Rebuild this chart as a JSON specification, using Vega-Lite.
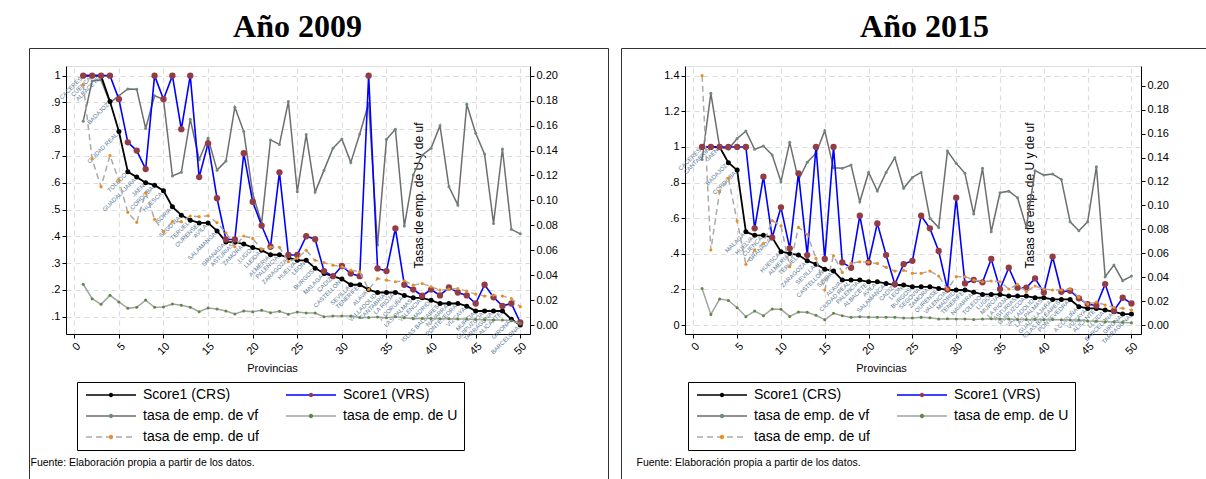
{
  "$schema": "https://vega.github.io/schema/vega-lite/v6.json",
  "autosize": {"type": "pad"},
  "padding": {"left": 28, "top": 10, "right": 0, "bottom": 0},
  "background": "white",
  "datasets": {
    "y2009": [
      {"i": 1, "prov": "CACERES", "crs": 1.0, "vrs": 1.0, "vf": 0.83, "u": 0.0327, "uf": 0.193},
      {"i": 2, "prov": "CUENCA", "crs": 1.0, "vrs": 1.0, "vf": 0.98, "u": 0.0211, "uf": 0.133},
      {"i": 3, "prov": "ALBACETE", "crs": 1.0, "vrs": 1.0, "vf": 0.984, "u": 0.0166, "uf": 0.111},
      {"i": 4, "prov": "BADAJOZ", "crs": 0.903, "vrs": 1.0, "vf": 0.899, "u": 0.0238, "uf": 0.136},
      {"i": 5, "prov": "CIUDAD REAL", "crs": 0.791, "vrs": 0.912, "vf": 0.925, "u": 0.0185, "uf": 0.116},
      {"i": 6, "prov": "TOLEDO", "crs": 0.641, "vrs": 0.751, "vf": 0.95, "u": 0.0134, "uf": 0.0904},
      {"i": 7, "prov": "GUADALAJARA", "crs": 0.621, "vrs": 0.72, "vf": 0.949, "u": 0.0142, "uf": 0.0824},
      {"i": 8, "prov": "JAEN", "crs": 0.6, "vrs": 0.651, "vf": 0.803, "u": 0.02, "uf": 0.106},
      {"i": 9, "prov": "CORDOBA", "crs": 0.591, "vrs": 1.0, "vf": 0.925, "u": 0.0142, "uf": 0.0848},
      {"i": 10, "prov": "HUESCA", "crs": 0.57, "vrs": 0.912, "vf": 0.912, "u": 0.0145, "uf": 0.0749},
      {"i": 11, "prov": "SORIA", "crs": 0.51, "vrs": 1.0, "vf": 0.625, "u": 0.0168, "uf": 0.0829},
      {"i": 12, "prov": "SEGOVIA", "crs": 0.479, "vrs": 0.8, "vf": 0.639, "u": 0.0158, "uf": 0.0829},
      {"i": 13, "prov": "TERUEL", "crs": 0.46, "vrs": 1.0, "vf": 0.837, "u": 0.0142, "uf": 0.0874},
      {"i": 14, "prov": "OURENSE", "crs": 0.45, "vrs": 0.621, "vf": 0.687, "u": 0.0107, "uf": 0.0869},
      {"i": 15, "prov": "AVILA", "crs": 0.45, "vrs": 0.747, "vf": 0.766, "u": 0.0136, "uf": 0.0877},
      {"i": 16, "prov": "SALAMANCA", "crs": 0.42, "vrs": 0.542, "vf": 0.647, "u": 0.0128, "uf": 0.0821},
      {"i": 17, "prov": "GRANADA", "crs": 0.379, "vrs": 0.388, "vf": 0.681, "u": 0.0112, "uf": 0.074},
      {"i": 18, "prov": "ASTURIAS", "crs": 0.378, "vrs": 0.388, "vf": 0.882, "u": 0.0088, "uf": 0.0628},
      {"i": 19, "prov": "ZAMORA", "crs": 0.371, "vrs": 0.71, "vf": 0.791, "u": 0.0112, "uf": 0.0714},
      {"i": 20, "prov": "LUGO", "crs": 0.358, "vrs": 0.529, "vf": 0.56, "u": 0.0107, "uf": 0.0695},
      {"i": 21, "prov": "LLEIDA", "crs": 0.348, "vrs": 0.44, "vf": 0.448, "u": 0.0118, "uf": 0.0607},
      {"i": 22, "prov": "ALMERIA", "crs": 0.331, "vrs": 0.361, "vf": 0.76, "u": 0.0099, "uf": 0.0623},
      {"i": 23, "prov": "PALENCIA", "crs": 0.331, "vrs": 0.639, "vf": 0.743, "u": 0.011, "uf": 0.0623},
      {"i": 24, "prov": "ZARAGOZA", "crs": 0.32, "vrs": 0.33, "vf": 0.903, "u": 0.0086, "uf": 0.0508},
      {"i": 25, "prov": "HUELVA", "crs": 0.31, "vrs": 0.33, "vf": 0.566, "u": 0.0104, "uf": 0.0535},
      {"i": 26, "prov": "LEON", "crs": 0.31, "vrs": 0.4, "vf": 0.78, "u": 0.0096, "uf": 0.06},
      {"i": 27, "prov": "BURGOS", "crs": 0.281, "vrs": 0.389, "vf": 0.565, "u": 0.0096, "uf": 0.052},
      {"i": 28, "prov": "MALAGA", "crs": 0.261, "vrs": 0.27, "vf": 0.647, "u": 0.0067, "uf": 0.05},
      {"i": 29, "prov": "CADIZ", "crs": 0.251, "vrs": 0.251, "vf": 0.729, "u": 0.0072, "uf": 0.048},
      {"i": 30, "prov": "CASTELLON", "crs": 0.24, "vrs": 0.289, "vf": 0.763, "u": 0.0072, "uf": 0.0467},
      {"i": 31, "prov": "SEVILLA", "crs": 0.219, "vrs": 0.261, "vf": 0.676, "u": 0.0072, "uf": 0.044},
      {"i": 32, "prov": "TENERIFE", "crs": 0.219, "vrs": 0.251, "vf": 0.782, "u": 0.0061, "uf": 0.0427},
      {"i": 33, "prov": "ALAVA", "crs": 0.201, "vrs": 1.0, "vf": 0.897, "u": 0.0061, "uf": 0.0285},
      {"i": 34, "prov": "VALLADOLID", "crs": 0.19, "vrs": 0.28, "vf": 0.367, "u": 0.0064, "uf": 0.0373},
      {"i": 35, "prov": "CANTABRIA", "crs": 0.19, "vrs": 0.27, "vf": 0.762, "u": 0.0059, "uf": 0.036},
      {"i": 36, "prov": "LA RIOJA", "crs": 0.19, "vrs": 0.429, "vf": 0.8, "u": 0.0067, "uf": 0.0347},
      {"i": 37, "prov": "A CORUÑA", "crs": 0.179, "vrs": 0.219, "vf": 0.438, "u": 0.0059, "uf": 0.0355},
      {"i": 38, "prov": "LAS PALMAS", "crs": 0.17, "vrs": 0.201, "vf": 0.629, "u": 0.0051, "uf": 0.032},
      {"i": 39, "prov": "VALENCIA", "crs": 0.17, "vrs": 0.178, "vf": 0.703, "u": 0.0053, "uf": 0.0333},
      {"i": 40, "prov": "MADRID", "crs": 0.161, "vrs": 0.201, "vf": 0.729, "u": 0.0053, "uf": 0.0307},
      {"i": 41, "prov": "ISLAS BALEARES", "crs": 0.149, "vrs": 0.179, "vf": 0.813, "u": 0.0051, "uf": 0.028},
      {"i": 42, "prov": "NAVARRA", "crs": 0.149, "vrs": 0.209, "vf": 0.585, "u": 0.0051, "uf": 0.0288},
      {"i": 43, "prov": "PONTEVEDRA", "crs": 0.149, "vrs": 0.19, "vf": 0.517, "u": 0.0048, "uf": 0.0293},
      {"i": 44, "prov": "VIZCAYA", "crs": 0.139, "vrs": 0.179, "vf": 0.893, "u": 0.0048, "uf": 0.0272},
      {"i": 45, "prov": "MURCIA", "crs": 0.121, "vrs": 0.149, "vf": 0.785, "u": 0.0045, "uf": 0.0248},
      {"i": 46, "prov": "GUIPUZCOA", "crs": 0.121, "vrs": 0.219, "vf": 0.707, "u": 0.0043, "uf": 0.0232},
      {"i": 47, "prov": "TARRAGONA", "crs": 0.121, "vrs": 0.172, "vf": 0.448, "u": 0.004, "uf": 0.024},
      {"i": 48, "prov": "ALICANTE", "crs": 0.121, "vrs": 0.14, "vf": 0.726, "u": 0.004, "uf": 0.0232},
      {"i": 49, "prov": "GIRONA", "crs": 0.09, "vrs": 0.149, "vf": 0.426, "u": 0.0035, "uf": 0.0213},
      {"i": 50, "prov": "BARCELONA", "crs": 0.069, "vrs": 0.078, "vf": 0.409, "u": 0.0013, "uf": 0.0147}
    ],
    "y2015": [
      {"i": 1, "prov": "CACERES", "crs": 1.0, "vrs": 1.0, "vf": 0.93, "u": 0.0306, "uf": 0.2084},
      {"i": 2, "prov": "CANTABRIA", "crs": 1.0, "vrs": 1.0, "vf": 1.301, "u": 0.0089, "uf": 0.0627},
      {"i": 3, "prov": "JAEN", "crs": 1.0, "vrs": 1.0, "vf": 1.0, "u": 0.0217, "uf": 0.1114},
      {"i": 4, "prov": "BADAJOZ", "crs": 0.912, "vrs": 1.0, "vf": 0.987, "u": 0.0206, "uf": 0.1226},
      {"i": 5, "prov": "CORDOBA", "crs": 0.87, "vrs": 1.0, "vf": 1.048, "u": 0.0145, "uf": 0.0869},
      {"i": 6, "prov": "MALAGA", "crs": 0.524, "vrs": 1.0, "vf": 1.089, "u": 0.007, "uf": 0.0507},
      {"i": 7, "prov": "HUELVA", "crs": 0.504, "vrs": 0.543, "vf": 0.987, "u": 0.0117, "uf": 0.0627},
      {"i": 8, "prov": "CUENCA", "crs": 0.504, "vrs": 0.833, "vf": 1.005, "u": 0.0078, "uf": 0.0683},
      {"i": 9, "prov": "GRANADA", "crs": 0.492, "vrs": 0.492, "vf": 0.955, "u": 0.0134, "uf": 0.0872},
      {"i": 10, "prov": "HUESCA", "crs": 0.412, "vrs": 0.661, "vf": 0.805, "u": 0.0131, "uf": 0.083},
      {"i": 11, "prov": "ALMERIA", "crs": 0.402, "vrs": 0.431, "vf": 1.026, "u": 0.0072, "uf": 0.0488},
      {"i": 12, "prov": "TERUEL", "crs": 0.393, "vrs": 0.852, "vf": 0.814, "u": 0.0109, "uf": 0.0816},
      {"i": 13, "prov": "ZARAGOZA", "crs": 0.361, "vrs": 0.393, "vf": 0.914, "u": 0.0106, "uf": 0.0758},
      {"i": 14, "prov": "SEVILLA", "crs": 0.342, "vrs": 1.0, "vf": 0.964, "u": 0.0081, "uf": 0.0557},
      {"i": 15, "prov": "CASTELLON", "crs": 0.314, "vrs": 0.371, "vf": 1.091, "u": 0.0045, "uf": 0.0293},
      {"i": 16, "prov": "SORIA", "crs": 0.303, "vrs": 1.0, "vf": 0.883, "u": 0.0098, "uf": 0.0579},
      {"i": 17, "prov": "ALAVA", "crs": 0.253, "vrs": 0.352, "vf": 0.88, "u": 0.0078, "uf": 0.044},
      {"i": 18, "prov": "CIUDAD REAL", "crs": 0.253, "vrs": 0.322, "vf": 0.899, "u": 0.0064, "uf": 0.0515},
      {"i": 19, "prov": "PALENCIA", "crs": 0.253, "vrs": 0.614, "vf": 0.692, "u": 0.007, "uf": 0.0529},
      {"i": 20, "prov": "ALBACETE", "crs": 0.243, "vrs": 0.352, "vf": 0.857, "u": 0.0064, "uf": 0.0524},
      {"i": 21, "prov": "AVILA", "crs": 0.243, "vrs": 0.571, "vf": 0.753, "u": 0.0064, "uf": 0.0515},
      {"i": 22, "prov": "SALAMANCA", "crs": 0.234, "vrs": 0.393, "vf": 0.857, "u": 0.0064, "uf": 0.0482},
      {"i": 23, "prov": "CADIZ", "crs": 0.225, "vrs": 0.23, "vf": 0.94, "u": 0.0064, "uf": 0.0451},
      {"i": 24, "prov": "LEON", "crs": 0.225, "vrs": 0.342, "vf": 0.768, "u": 0.0059, "uf": 0.0457},
      {"i": 25, "prov": "BURGOS", "crs": 0.215, "vrs": 0.361, "vf": 0.829, "u": 0.0059, "uf": 0.0432},
      {"i": 26, "prov": "SEGOVIA", "crs": 0.215, "vrs": 0.614, "vf": 0.857, "u": 0.0064, "uf": 0.0432},
      {"i": 27, "prov": "ZAMORA", "crs": 0.215, "vrs": 0.543, "vf": 0.599, "u": 0.0061, "uf": 0.0451},
      {"i": 28, "prov": "OURENSE", "crs": 0.206, "vrs": 0.416, "vf": 0.548, "u": 0.005, "uf": 0.041},
      {"i": 29, "prov": "VALENCIA", "crs": 0.197, "vrs": 0.202, "vf": 0.977, "u": 0.0053, "uf": 0.0298},
      {"i": 30, "prov": "MADRID", "crs": 0.197, "vrs": 0.715, "vf": 0.908, "u": 0.005, "uf": 0.0404},
      {"i": 31, "prov": "TENERIFE", "crs": 0.197, "vrs": 0.234, "vf": 0.852, "u": 0.005, "uf": 0.0404},
      {"i": 32, "prov": "NAVARRA", "crs": 0.185, "vrs": 0.253, "vf": 0.623, "u": 0.0047, "uf": 0.0376},
      {"i": 33, "prov": "TOLEDO", "crs": 0.172, "vrs": 0.24, "vf": 0.88, "u": 0.005, "uf": 0.0362},
      {"i": 34, "prov": "LUGO", "crs": 0.172, "vrs": 0.371, "vf": 0.524, "u": 0.0053, "uf": 0.0368},
      {"i": 35, "prov": "MURCIA", "crs": 0.172, "vrs": 0.202, "vf": 0.743, "u": 0.005, "uf": 0.0362},
      {"i": 36, "prov": "LA RIOJA", "crs": 0.163, "vrs": 0.322, "vf": 0.752, "u": 0.005, "uf": 0.0301},
      {"i": 37, "prov": "ASTURIAS", "crs": 0.163, "vrs": 0.21, "vf": 0.715, "u": 0.0047, "uf": 0.034},
      {"i": 38, "prov": "GUIPUZCOA", "crs": 0.163, "vrs": 0.21, "vf": 0.55, "u": 0.0047, "uf": 0.0279},
      {"i": 39, "prov": "VALLADOLID", "crs": 0.1535, "vrs": 0.262, "vf": 0.867, "u": 0.0047, "uf": 0.0326},
      {"i": 40, "prov": "LAS PALMAS", "crs": 0.1535, "vrs": 0.183, "vf": 0.842, "u": 0.0045, "uf": 0.0301},
      {"i": 41, "prov": "GUADALAJARA", "crs": 0.144, "vrs": 0.384, "vf": 0.848, "u": 0.0047, "uf": 0.0293},
      {"i": 42, "prov": "ISLAS BALEARES", "crs": 0.144, "vrs": 0.187, "vf": 0.818, "u": 0.0045, "uf": 0.0293},
      {"i": 43, "prov": "PONTEVEDRA", "crs": 0.144, "vrs": 0.193, "vf": 0.58, "u": 0.0042, "uf": 0.0301},
      {"i": 44, "prov": "A CORUÑA", "crs": 0.103, "vrs": 0.15, "vf": 0.53, "u": 0.0042, "uf": 0.0231},
      {"i": 45, "prov": "VIZCAYA", "crs": 0.0936, "vrs": 0.118, "vf": 0.58, "u": 0.0033, "uf": 0.0175},
      {"i": 46, "prov": "ALICANTE", "crs": 0.0936, "vrs": 0.109, "vf": 0.889, "u": 0.0031, "uf": 0.0192},
      {"i": 47, "prov": "LLEIDA", "crs": 0.0842, "vrs": 0.23, "vf": 0.271, "u": 0.0028, "uf": 0.0167},
      {"i": 48, "prov": "BARCELONA", "crs": 0.0749, "vrs": 0.0805, "vf": 0.337, "u": 0.0025, "uf": 0.0148},
      {"i": 49, "prov": "GIRONA", "crs": 0.0618, "vrs": 0.1535, "vf": 0.249, "u": 0.0022, "uf": 0.014},
      {"i": 50, "prov": "TARRAGONA", "crs": 0.0618, "vrs": 0.1217, "vf": 0.275, "u": 0.002, "uf": 0.0125}
    ]
  },
  "hconcat": [
    {
      "width": 579,
      "height": 431,
      "data": {"name": "y2009"},
      "title": {"text": "Año 2009", "dx": -21},
      "layer": [
        {
          "encoding": {
            "x": {"field": "i", "type": "quantitative",
              "scale": {"domain": [-0.93, 51.09], "range": [37, 501], "nice": false, "zero": false},
              "axis": {"orient": "bottom", "offset": -145, "values": [0, 5, 10, 15, 20, 25, 30, 35, 40, 45, 50],
                "labelAngle": -45, "grid": false, "title": "Provincias", "titleX": 243, "titleY": 37,
                "titleAlign": "center", "titleBaseline": "alphabetic"}}
          },
          "layer": [
            {"mark": {"type": "line", "strokeWidth": 1.5},
             "encoding": {
               "y": {"field": "vf", "type": "quantitative",
                 "scale": {"domain": [0.035, 1.036], "range": [286, 18], "nice": false, "zero": false},
                 "axis": {"orient": "left", "offset": -37, "values": [0.1, 0.2, 0.3, 0.4, 0.5, 0.6, 0.7, 0.8, 0.9, 1],
                   "labelExpr": "datum.value >= 0.999 ? '1' : replace(format(datum.value, '.1f'), '0.', '.')",
                   "grid": true, "title": null}},
               "color": {"datum": "tasa de emp. de vf", "type": "nominal",
                 "scale": {"domain": ["Score1 (CRS)", "Score1 (VRS)", "tasa de emp. de vf", "tasa de emp. de U", "tasa de emp. de uf"],
                   "range": ["#000000", "#0000ff", "#6e6e6e", "#a3a3a3", "#aaaaaa"]},
                 "legend": {"legendX": 48, "legendY": 334, "symbolType": "M-6.25,0H6.25", "strokeColor": "#000000", "zindex": 0}}
             }},
            {"mark": {"type": "circle", "size": 9, "opacity": 1},
             "encoding": {
               "y": {"field": "vf", "type": "quantitative", "scale": {"domain": [0.035, 1.036], "range": [286, 18], "nice": false, "zero": false}},
               "fill": {"datum": "tasa de emp. de vf\u200b", "type": "nominal",
                 "scale": {"domain": ["Score1 (CRS)\u200b", "Score1 (VRS)\u200b", "tasa de emp. de vf\u200b", "tasa de emp. de U\u200b", "tasa de emp. de uf\u200b"],
                   "range": ["#000000", "#933c45", "#6d8b83", "#5d8a3c", "#f08c1c"]},
                 "legend": {"legendX": 48, "legendY": 334, "symbolType": "M0.55,0A0.55,0.55,0,1,1,-0.55,0A0.55,0.55,0,1,1,0.55,0Z",
                   "symbolStrokeColor": "transparent", "labelOpacity": 0, "strokeColor": "transparent", "zindex": 1}}
             }},
            {"mark": {"type": "line", "strokeWidth": 1.8},
             "encoding": {
               "y": {"field": "crs", "type": "quantitative", "scale": {"domain": [0.035, 1.036], "range": [286, 18], "nice": false, "zero": false}},
               "color": {"datum": "Score1 (CRS)", "type": "nominal"}
             }},
            {"mark": {"type": "circle", "size": 25, "opacity": 1},
             "encoding": {
               "y": {"field": "crs", "type": "quantitative", "scale": {"domain": [0.035, 1.036], "range": [286, 18], "nice": false, "zero": false}},
               "fill": {"datum": "Score1 (CRS)\u200b", "type": "nominal"}
             }},
            {"mark": {"type": "line", "strokeWidth": 1.6},
             "encoding": {
               "y": {"field": "vrs", "type": "quantitative", "scale": {"domain": [0.035, 1.036], "range": [286, 18], "nice": false, "zero": false}},
               "color": {"datum": "Score1 (VRS)", "type": "nominal"}
             }},
            {"mark": {"type": "circle", "size": 40, "opacity": 1},
             "encoding": {
               "y": {"field": "vrs", "type": "quantitative", "scale": {"domain": [0.035, 1.036], "range": [286, 18], "nice": false, "zero": false}},
               "fill": {"datum": "Score1 (VRS)\u200b", "type": "nominal"}
             }},
            {"mark": {"type": "text", "angle": -45, "align": "right", "baseline": "middle", "dx": -3, "fontSize": 6, "color": "#5a7896"},
             "encoding": {
               "y": {"field": "crs", "type": "quantitative", "scale": {"domain": [0.035, 1.036], "range": [286, 18], "nice": false, "zero": false}},
               "text": {"field": "prov", "type": "nominal"}
             }}
          ]
        },
        {
          "encoding": {
            "x": {"field": "i", "type": "quantitative",
              "scale": {"domain": [-0.93, 51.09], "range": [37, 501], "nice": false, "zero": false},
              "axis": {"orient": "top", "offset": -18, "values": [0, 5, 10, 15, 20, 25, 30, 35, 40, 45, 50],
                "ticks": false, "labels": false, "grid": true, "domainColor": "#dddddd",
                "title": "Fuente: Elaboración propia a partir de los datos.", "titleX": 1, "titleY": 399,
                "titleAlign": "left", "titleBaseline": "alphabetic", "titleFontSize": 10.5}}
          },
          "layer": [
            {"mark": {"type": "line", "strokeWidth": 1.5},
             "encoding": {
               "y": {"field": "u", "type": "quantitative",
                 "scale": {"domain": [-0.0072, 0.2078], "range": [286, 18], "nice": false, "zero": false},
                 "axis": {"orient": "right", "offset": -78, "values": [0, 0.02, 0.04, 0.06, 0.08, 0.1, 0.12, 0.14, 0.16, 0.18, 0.2],
                   "format": ".2f", "grid": false, "title": "Tasas de emp. de U y de uf",
                   "titleAngle": 270, "titleX": -112, "titleY": 147, "titleAlign": "center", "titleBaseline": "middle", "titleFontSize": 12}},
               "color": {"datum": "tasa de emp. de U", "type": "nominal"}
             }},
            {"mark": {"type": "circle", "size": 9, "opacity": 1},
             "encoding": {
               "y": {"field": "u", "type": "quantitative", "scale": {"domain": [-0.0072, 0.2078], "range": [286, 18], "nice": false, "zero": false}},
               "fill": {"datum": "tasa de emp. de U\u200b", "type": "nominal"}
             }},
            {"mark": {"type": "line", "strokeWidth": 1.5},
             "encoding": {
               "y": {"field": "uf", "type": "quantitative", "scale": {"domain": [-0.0072, 0.2078], "range": [286, 18], "nice": false, "zero": false}},
               "color": {"datum": "tasa de emp. de uf", "type": "nominal"},
               "strokeDash": {"datum": "tasa de emp. de uf", "type": "nominal",
                 "scale": {"domain": ["Score1 (CRS)", "Score1 (VRS)", "tasa de emp. de vf", "tasa de emp. de U", "tasa de emp. de uf"],
                   "range": [[1, 0], [1, 0], [1, 0], [1, 0], [6, 4]]},
                 "legend": {"legendX": 48, "legendY": 334, "symbolType": "M-6.25,0H6.25", "strokeColor": "#000000", "zindex": 0}}
             }},
            {"mark": {"type": "circle", "size": 10, "opacity": 1},
             "encoding": {
               "y": {"field": "uf", "type": "quantitative", "scale": {"domain": [-0.0072, 0.2078], "range": [286, 18], "nice": false, "zero": false}},
               "fill": {"datum": "tasa de emp. de uf\u200b", "type": "nominal"}
             }}
          ]
        }
      ],
      "resolve": {"scale": {"y": "independent"}, "axis": {"x": "independent"}}
    },
    {
      "width": 587,
      "height": 431,
      "data": {"name": "y2015"},
      "title": {"text": "Año 2015", "dx": 10},
      "layer": [
        {
          "encoding": {
            "x": {"field": "i", "type": "quantitative",
              "scale": {"domain": [-0.95, 51.09], "range": [64, 520], "nice": false, "zero": false},
              "axis": {"orient": "bottom", "offset": -145, "values": [0, 5, 10, 15, 20, 25, 30, 35, 40, 45, 50],
                "labelAngle": -45, "grid": false, "title": "Provincias", "titleX": 260, "titleY": 37,
                "titleAlign": "center", "titleBaseline": "alphabetic"}}
          },
          "layer": [
            {"mark": {"type": "line", "strokeWidth": 1.5},
             "encoding": {
               "y": {"field": "vf", "type": "quantitative",
                 "scale": {"domain": [-0.05, 1.4545], "range": [286, 18], "nice": false, "zero": false},
                 "axis": {"orient": "left", "offset": -64, "values": [0, 0.2, 0.4, 0.6, 0.8, 1, 1.2, 1.4],
                   "labelExpr": "datum.value == 0 ? '0' : replace(format(datum.value, '.1~f'), '0.', '.')",
                   "grid": true, "title": null}},
               "color": {"datum": "tasa de emp. de vf", "type": "nominal",
                 "scale": {"domain": ["Score1 (CRS)", "Score1 (VRS)", "tasa de emp. de vf", "tasa de emp. de U", "tasa de emp. de uf"],
                   "range": ["#000000", "#0000ff", "#6e6e6e", "#a3a3a3", "#aaaaaa"]},
                 "legend": {"legendX": 67, "legendY": 334, "symbolType": "M-6.25,0H6.25", "strokeColor": "#000000", "zindex": 0}}
             }},
            {"mark": {"type": "circle", "size": 9, "opacity": 1},
             "encoding": {
               "y": {"field": "vf", "type": "quantitative", "scale": {"domain": [-0.05, 1.4545], "range": [286, 18], "nice": false, "zero": false}},
               "fill": {"datum": "tasa de emp. de vf\u200b", "type": "nominal",
                 "scale": {"domain": ["Score1 (CRS)\u200b", "Score1 (VRS)\u200b", "tasa de emp. de vf\u200b", "tasa de emp. de U\u200b", "tasa de emp. de uf\u200b"],
                   "range": ["#000000", "#933c45", "#6d8b83", "#5d8a3c", "#f08c1c"]},
                 "legend": {"legendX": 67, "legendY": 334, "symbolType": "M0.55,0A0.55,0.55,0,1,1,-0.55,0A0.55,0.55,0,1,1,0.55,0Z",
                   "symbolStrokeColor": "transparent", "labelOpacity": 0, "strokeColor": "transparent", "zindex": 1}}
             }},
            {"mark": {"type": "line", "strokeWidth": 1.8},
             "encoding": {
               "y": {"field": "crs", "type": "quantitative", "scale": {"domain": [-0.05, 1.4545], "range": [286, 18], "nice": false, "zero": false}},
               "color": {"datum": "Score1 (CRS)", "type": "nominal"}
             }},
            {"mark": {"type": "circle", "size": 25, "opacity": 1},
             "encoding": {
               "y": {"field": "crs", "type": "quantitative", "scale": {"domain": [-0.05, 1.4545], "range": [286, 18], "nice": false, "zero": false}},
               "fill": {"datum": "Score1 (CRS)\u200b", "type": "nominal"}
             }},
            {"mark": {"type": "line", "strokeWidth": 1.6},
             "encoding": {
               "y": {"field": "vrs", "type": "quantitative", "scale": {"domain": [-0.05, 1.4545], "range": [286, 18], "nice": false, "zero": false}},
               "color": {"datum": "Score1 (VRS)", "type": "nominal"}
             }},
            {"mark": {"type": "circle", "size": 40, "opacity": 1},
             "encoding": {
               "y": {"field": "vrs", "type": "quantitative", "scale": {"domain": [-0.05, 1.4545], "range": [286, 18], "nice": false, "zero": false}},
               "fill": {"datum": "Score1 (VRS)\u200b", "type": "nominal"}
             }},
            {"mark": {"type": "text", "angle": -45, "align": "right", "baseline": "middle", "dx": -3, "fontSize": 6, "color": "#5a7896"},
             "encoding": {
               "y": {"field": "crs", "type": "quantitative", "scale": {"domain": [-0.05, 1.4545], "range": [286, 18], "nice": false, "zero": false}},
               "text": {"field": "prov", "type": "nominal"}
             }}
          ]
        },
        {
          "encoding": {
            "x": {"field": "i", "type": "quantitative",
              "scale": {"domain": [-0.95, 51.09], "range": [64, 520], "nice": false, "zero": false},
              "axis": {"orient": "top", "offset": -18, "values": [0, 5, 10, 15, 20, 25, 30, 35, 40, 45, 50],
                "ticks": false, "labels": false, "grid": true, "domainColor": "#dddddd",
                "title": "Fuente: Elaboración propia a partir de los datos.", "titleX": 15, "titleY": 399,
                "titleAlign": "left", "titleBaseline": "alphabetic", "titleFontSize": 10.5}}
          },
          "layer": [
            {"mark": {"type": "line", "strokeWidth": 1.5},
             "encoding": {
               "y": {"field": "u", "type": "quantitative",
                 "scale": {"domain": [-0.0075, 0.2165], "range": [286, 18], "nice": false, "zero": false},
                 "axis": {"orient": "right", "offset": -67, "values": [0, 0.02, 0.04, 0.06, 0.08, 0.1, 0.12, 0.14, 0.16, 0.18, 0.2],
                   "format": ".2f", "grid": false, "title": "Tasas de emp. de U y de uf",
                   "titleAngle": 270, "titleX": -112, "titleY": 147, "titleAlign": "center", "titleBaseline": "middle", "titleFontSize": 12}},
               "color": {"datum": "tasa de emp. de U", "type": "nominal"}
             }},
            {"mark": {"type": "circle", "size": 9, "opacity": 1},
             "encoding": {
               "y": {"field": "u", "type": "quantitative", "scale": {"domain": [-0.0075, 0.2165], "range": [286, 18], "nice": false, "zero": false}},
               "fill": {"datum": "tasa de emp. de U\u200b", "type": "nominal"}
             }},
            {"mark": {"type": "line", "strokeWidth": 1.5},
             "encoding": {
               "y": {"field": "uf", "type": "quantitative", "scale": {"domain": [-0.0075, 0.2165], "range": [286, 18], "nice": false, "zero": false}},
               "color": {"datum": "tasa de emp. de uf", "type": "nominal"},
               "strokeDash": {"datum": "tasa de emp. de uf", "type": "nominal",
                 "scale": {"domain": ["Score1 (CRS)", "Score1 (VRS)", "tasa de emp. de vf", "tasa de emp. de U", "tasa de emp. de uf"],
                   "range": [[1, 0], [1, 0], [1, 0], [1, 0], [6, 4]]},
                 "legend": {"legendX": 67, "legendY": 334, "symbolType": "M-6.25,0H6.25", "strokeColor": "#000000", "zindex": 0}}
             }},
            {"mark": {"type": "circle", "size": 10, "opacity": 1},
             "encoding": {
               "y": {"field": "uf", "type": "quantitative", "scale": {"domain": [-0.0075, 0.2165], "range": [286, 18], "nice": false, "zero": false}},
               "fill": {"datum": "tasa de emp. de uf\u200b", "type": "nominal"}
             }}
          ]
        }
      ],
      "resolve": {"scale": {"y": "independent"}, "axis": {"x": "independent"}}
    }
  ],
  "spacing": 11,
  "resolve": {"scale": {"color": "independent", "fill": "independent", "strokeDash": "independent"}},
  "config": {
    "font": "Liberation Sans",
    "view": {"stroke": "#333333", "strokeWidth": 1},
    "title": {"font": "Liberation Serif", "fontSize": 32, "fontWeight": "bold", "color": "#000000", "anchor": "middle", "frame": "group", "offset": 4, "baseline": "alphabetic"},
    "axis": {"labelFont": "Liberation Sans", "labelFontSize": 11, "labelColor": "#000000", "labelPadding": 2,
      "tickSize": 4, "tickColor": "#000000", "domainColor": "#000000", "domainWidth": 1,
      "gridColor": "#dcdcdc", "gridDash": [5, 4], "gridWidth": 1.2,
      "titleFont": "Liberation Sans", "titleFontSize": 11, "titleFontWeight": "normal", "titleColor": "#000000"},
    "legend": {"orient": "none", "columns": 2, "direction": "horizontal", "title": null,
      "symbolSize": 64, "symbolStrokeWidth": 1.5, "symbolOffset": 21,
      "labelFont": "Liberation Sans", "labelFontSize": 14, "labelColor": "#000000",
      "labelLimit": 300, "labelOffset": 25, "padding": 6, "columnPadding": 24, "rowPadding": 7}
  }
}
